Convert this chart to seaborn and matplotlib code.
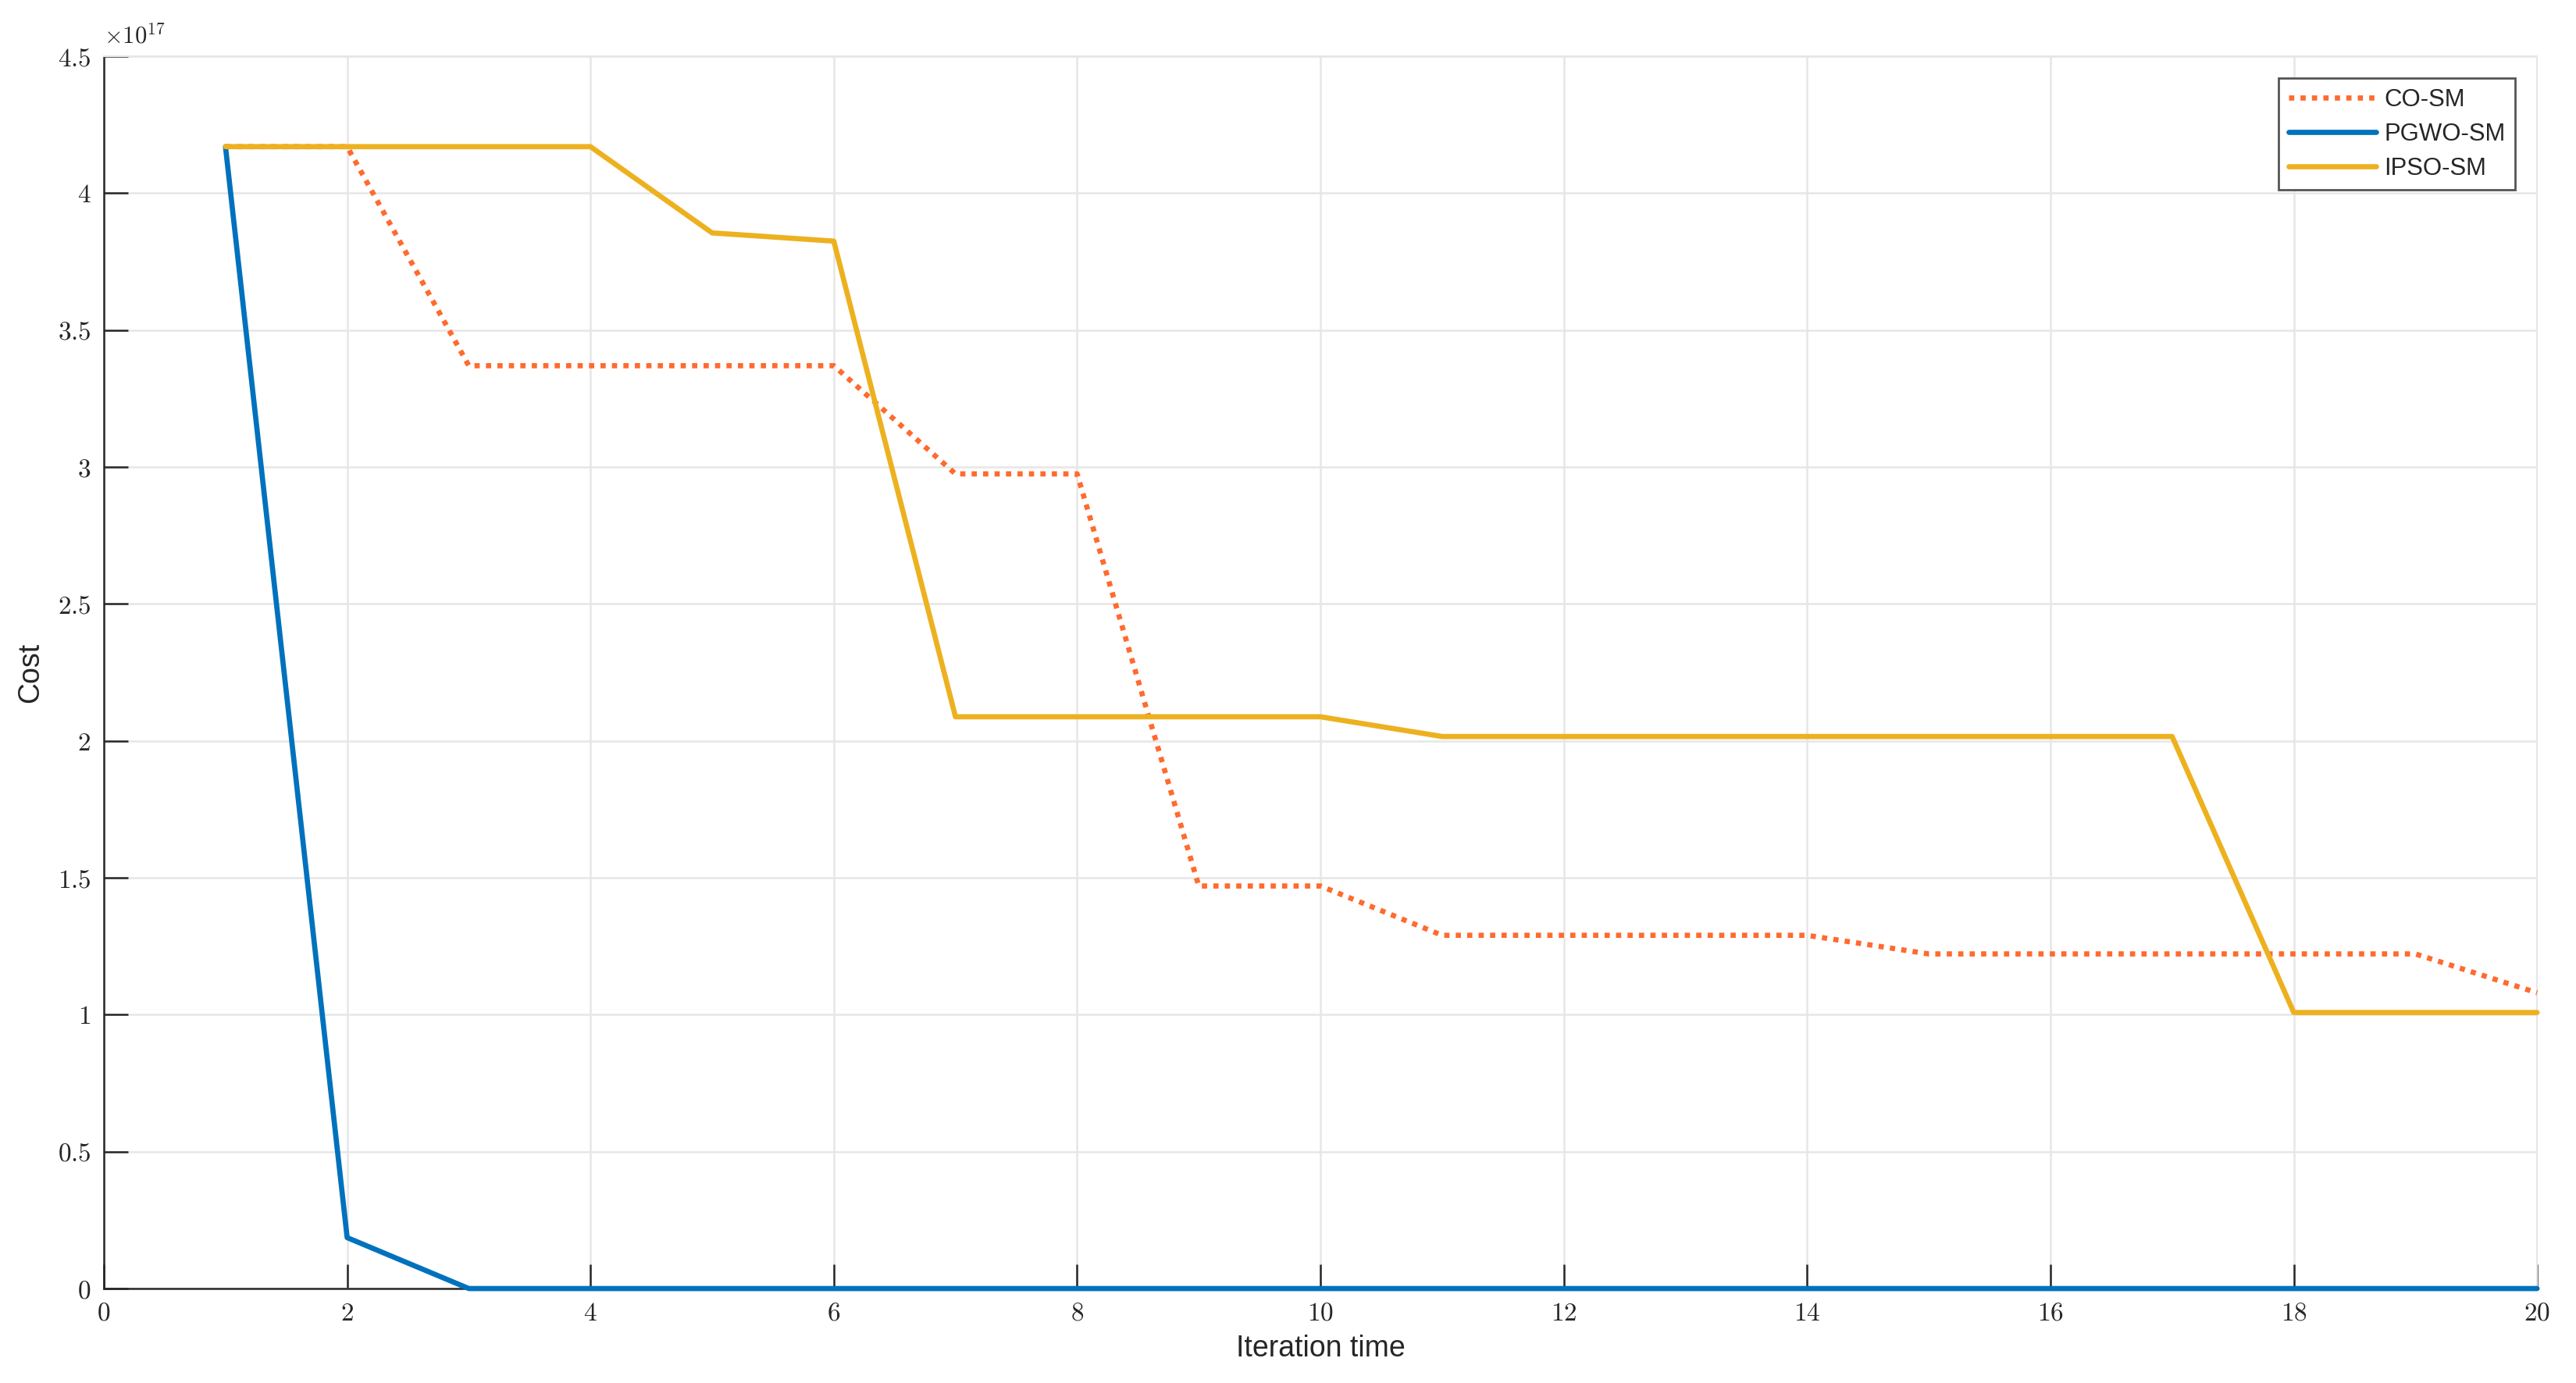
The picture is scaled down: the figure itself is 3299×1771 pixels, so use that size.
import numpy as np
import pandas as pd
import matplotlib
matplotlib.use('Agg')
import matplotlib.pyplot as plt
from matplotlib.ticker import FuncFormatter, MultipleLocator
import seaborn as sns

# dados (custo em unidades de 1e17)
iteracoes = list(range(1, 21))
co_sm = [4.17, 4.17, 3.37, 3.37, 3.37, 3.37, 2.975, 2.975, 1.47, 1.47,
         1.29, 1.29, 1.29, 1.29, 1.222, 1.222, 1.222, 1.222, 1.222, 1.08]
pgwo_sm = [4.17, 0.186, 0, 0, 0, 0, 0, 0, 0, 0,
           0, 0, 0, 0, 0, 0, 0, 0, 0, 0]
ipso_sm = [4.17, 4.17, 4.17, 4.17, 3.855, 3.825, 2.088, 2.088, 2.088, 2.088,
           2.016, 2.016, 2.016, 2.016, 2.016, 2.016, 2.016, 1.008, 1.008, 1.008]
escala = 1e17

df = pd.DataFrame({
    'iter': iteracoes * 3,
    'cost': np.array(co_sm + pgwo_sm + ipso_sm) * escala,
    'metodo': ['CO-SM'] * 20 + ['PGWO-SM'] * 20 + ['IPSO-SM'] * 20,
})

sns.set_style('white')
plt.rcParams['font.family'] = ['Liberation Sans', 'DejaVu Sans']
plt.rcParams['mathtext.fontset'] = 'cm'

fig = plt.figure(figsize=(16.495, 8.855), dpi=200)
ax = fig.add_axes([0.0403, 0.0683, 0.9446, 0.891])

estilos = {
    'CO-SM': dict(color='#FF6A2E', linestyle=(0, (1, 1.2))),
    'PGWO-SM': dict(color='#0072BD', linestyle='-'),
    'IPSO-SM': dict(color='#EDB120', linestyle='-'),
}
for nome in ['CO-SM', 'PGWO-SM', 'IPSO-SM']:
    sub = df[df['metodo'] == nome]
    sns.lineplot(x='iter', y='cost', data=sub, ax=ax, label=nome,
                 linewidth=2.4, clip_on=False, zorder=3, **estilos[nome])

ax.set_xlim(0, 20)
ax.set_ylim(0, 4.5e17)
ax.xaxis.set_major_locator(MultipleLocator(2))
ax.yaxis.set_major_locator(MultipleLocator(0.5e17))
ax.xaxis.set_major_formatter(FuncFormatter(lambda v, p: f'${v:g}$'))
ax.yaxis.set_major_formatter(FuncFormatter(lambda v, p: f'${v / escala:g}$'))
ax.text(0.0, 1.006, r'$\times10^{17}$', transform=ax.transAxes,
        fontsize=11, ha='left', va='bottom', color='#262626')

ax.grid(True, color='#e6e6e6', linewidth=0.9)
ax.set_axisbelow(True)
for lado in ['top', 'right']:
    ax.spines[lado].set_color('#e6e6e6')
for lado in ['left', 'bottom']:
    ax.spines[lado].set_color('#262626')
    ax.spines[lado].set_linewidth(0.9)
ax.tick_params(direction='in', length=11, width=0.9, colors='#262626',
               labelsize=12, top=False, right=False, left=True, bottom=True,
               pad=6)

ax.set_xlabel('Iteration time', fontsize=13.5, color='#262626', labelpad=4)
ax.set_ylabel('Cost', fontsize=13.5, color='#262626', labelpad=6)

leg = ax.legend(loc='upper right', fontsize=11.2, frameon=True, fancybox=False,
                framealpha=1, edgecolor='#555555', borderaxespad=0.9,
                handlelength=3.6, handletextpad=0.35, labelspacing=0.45,
                borderpad=0.4)
leg.get_frame().set_linewidth(1.0)
leg.set_zorder(5)

plt.savefig('out.png', dpi=200)
plt.close()
